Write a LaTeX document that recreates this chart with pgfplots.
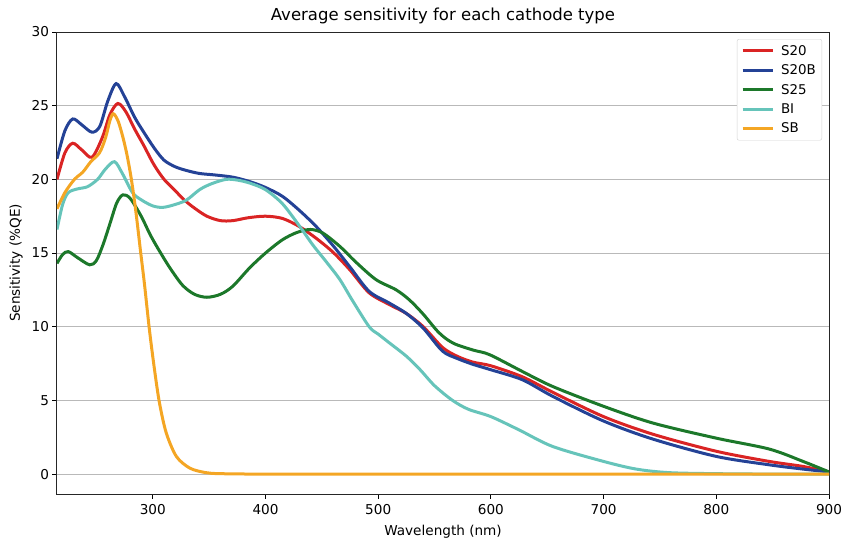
\documentclass[border=0pt]{standalone}
\usepackage{pgfplots}
\pgfplotsset{compat=1.18}
\usepackage{fontspec}
\setmainfont{DejaVu Sans}
\definecolor{cS20}{RGB}{218,36,36}
\definecolor{cS20B}{RGB}{36,66,150}
\definecolor{cS25}{RGB}{28,120,42}
\definecolor{cBI}{RGB}{102,196,186}
\definecolor{cSB}{RGB}{244,166,36}
\begin{document}
\begin{tikzpicture}
\begin{axis}[
  scale only axis,
  width=772pt, height=462pt,
  xmin=215, xmax=900, ymin=-1.35, ymax=30,
  xtick={300,400,...,900}, ytick={0,5,...,30},
  tick pos=left, tick align=outside,
  major tick length=4.5pt,
  every tick/.style={black, line width=1pt},
  axis line style={line width=1pt, black!85},
  ymajorgrids, grid style={line width=1pt, gray!55},
  /pgf/number format/assume math mode=true,
  ticklabel style={font=\fontsize{13.6}{16}\selectfont},
  xticklabel style={yshift=-2.5pt},
  xlabel={Wavelength (nm)}, ylabel={Sensitivity (\%QE)},
  label style={font=\fontsize{13.6}{16}\selectfont},
  xlabel style={yshift=-3pt},
  ylabel style={yshift=2pt},
  title={Average sensitivity for each cathode type},
  title style={font=\fontsize{16.5}{19}\selectfont, at={(0.5,1)}, anchor=south, yshift=-1pt},
  legend style={at={(1,1)}, anchor=north east, xshift=-7pt, yshift=-7pt,
    draw=gray!35, rounded corners=2pt, font=\fontsize{13.4}{15}\selectfont,
    row sep=4pt, inner xsep=4pt, inner ysep=4pt},
  legend cell align=left,
  legend image code/.code={\draw[#1, line width=3pt] (0pt,0pt) -- (30pt,0pt); \path (35pt,0pt);},
  every axis plot/.append style={line width=3pt, smooth, tension=0.5},
]
\addplot[cS20] coordinates {
(215,20.0)(222,21.8)(229,22.45)(237,22.0)(246,21.5)(255,22.8)(262,24.4)(269,25.15)(276,24.6)(284,23.4)(292,22.3)(301,21.0)(310,20.0)(319,19.3)(328,18.6)(337,18.05)(348,17.5)(360,17.2)(371,17.2)(385,17.4)(400,17.5)(415,17.35)(430,16.8)(445,16.0)(460,15.05)(475,13.85)(492,12.3)(510,11.5)(525,10.9)(540,10.0)(557,8.6)(570,8.0)(584,7.6)(600,7.35)(628,6.6)(655,5.55)(700,3.9)(744,2.7)(800,1.55)(847,0.86)(877,0.52)(900,0.15)};
\addlegendentry{S20}
\addplot[cS20B] coordinates {
(215,21.4)(222,23.3)(229,24.1)(237,23.7)(246,23.2)(253,23.6)(260,25.3)(267.5,26.5)(275,25.6)(284,24.2)(292,23.2)(301.5,22.1)(310,21.3)(320,20.85)(330,20.6)(341.5,20.4)(355,20.3)(371,20.15)(386,19.85)(400,19.45)(415,18.85)(430,17.9)(445,16.8)(460,15.5)(475,14.05)(492,12.4)(510,11.6)(525,10.9)(540,9.9)(557,8.35)(570,7.85)(584,7.45)(600,7.08)(628,6.4)(655,5.27)(700,3.6)(744,2.37)(800,1.2)(847,0.63)(877,0.34)(900,0.15)};
\addlegendentry{S20B}
\addplot[cS25] coordinates {
(215,14.3)(220,14.9)(225,15.1)(233,14.7)(244,14.2)(250,14.5)(256,15.6)(262,17.0)(268,18.4)(273.5,18.95)(280,18.7)(289.7,17.5)(298,16.2)(307,15.0)(316,13.9)(326.6,12.8)(337,12.2)(348,12.0)(360,12.2)(371,12.75)(386,14.0)(400,15.0)(415,15.9)(428,16.4)(440,16.6)(451,16.35)(466,15.45)(480,14.4)(498,13.2)(516,12.5)(528,11.8)(540,10.85)(552,9.75)(560,9.2)(569,8.8)(585,8.4)(599,8.1)(628,6.96)(655,5.94)(700,4.6)(744,3.46)(800,2.44)(847,1.7)(877,0.86)(900,0.15)};
\addlegendentry{S25}
\addplot[cBI] coordinates {
(215,16.6)(220,18.3)(225,19.1)(233,19.35)(242,19.5)(251,20.0)(258,20.7)(266,21.2)(273,20.4)(282,19.1)(290,18.6)(300,18.2)(309,18.1)(320,18.3)(330,18.6)(341.5,19.3)(352,19.7)(365,20.0)(375,19.95)(386,19.75)(400,19.3)(415,18.35)(430,16.85)(442,15.55)(454,14.4)(466,13.2)(477,11.8)(492,10.0)(500,9.5)(510,8.9)(525,8.0)(537,7.1)(550,6.0)(566,5.0)(580,4.4)(600,3.9)(625,3.0)(655,1.87)(700,0.86)(729,0.34)(758,0.1)(800,0.03)(850,0.0)(900,0.0)};
\addlegendentry{BI}
\addplot[cSB] coordinates {
(215,18.0)(222,19.1)(230.5,20.0)(238,20.5)(245,21.2)(252.7,21.8)(258,22.8)(262,24.0)(265,24.45)(269,24.0)(273,23.0)(277,21.7)(281,20.0)(285,17.8)(289,15.2)(292.6,12.9)(297,9.8)(301.5,7.1)(306,4.8)(312,2.78)(321,1.19)(333,0.4)(347,0.1)(360,0.03)(400,0.0)(500,0.0)(700,0.0)(900,0.0)};
\addlegendentry{SB}
\end{axis}
\pgfresetboundingbox
\path[use as bounding box] (-57pt,-53pt) rectangle (792pt,494pt);
\end{tikzpicture}
\end{document}
